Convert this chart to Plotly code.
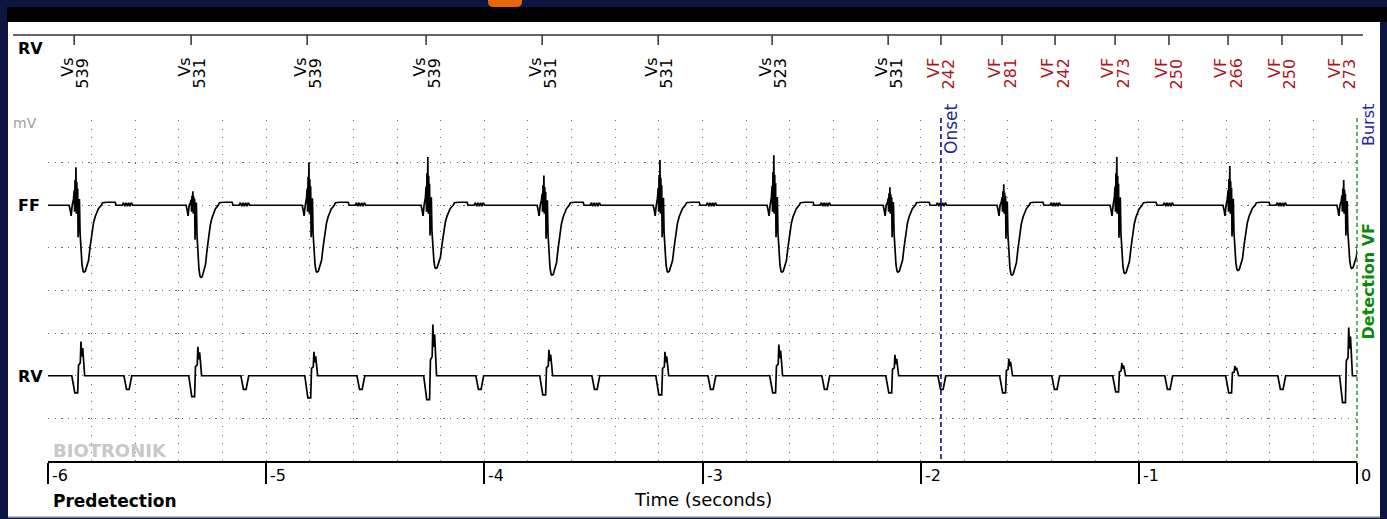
import plotly.graph_objects as go

# ---------------- data ----------------
# Marker channel (top strip): event time (s), event type, interval label (ms)
marker_t = [-5.880, -5.344, -4.812, -4.267, -3.735, -3.203, -2.681, -2.149,
            -1.907, -1.627, -1.384, -1.109, -0.862, -0.591, -0.344, -0.069]
marker_type = ["Vs", "Vs", "Vs", "Vs", "Vs", "Vs", "Vs", "Vs",
               "VF", "VF", "VF", "VF", "VF", "VF", "VF", "VF"]
marker_interval = ["539", "531", "539", "539", "531", "531", "523", "531",
                   "242", "281", "242", "273", "250", "266", "250", "273"]

# Ventricular complexes seen on both EGM channels (s)
beat_t = [-5.880, -5.344, -4.812, -4.267, -3.735, -3.203, -2.681, -2.149,
          -1.627, -1.109, -0.591, -0.069]
# per-beat amplitudes (grid divisions)
ff_up = [0.89, 0.33, 1.00, 1.13, 0.70, 1.06, 1.17, 0.42, 0.49, 1.13, 0.92, 0.59]
ff_dn = [1.57, 1.69, 1.57, 1.48, 1.64, 1.57, 1.57, 1.57, 1.64, 1.60, 1.53, 1.48]
rv_up = [0.80, 0.68, 0.56, 1.20, 0.61, 0.56, 0.73, 0.49, 0.40, 0.30, 0.23, 1.13]
rv_dn = [0.40, 0.49, 0.52, 0.56, 0.45, 0.45, 0.40, 0.40, 0.40, 0.38, 0.40, 0.63]

# Far-field complex shape read from the first beat: offset (ms), value, part
ff_tpl_ms = [-33, -23, -18, -14, -9, -3, 0, 2, 4, 6, 8, 10, 12, 14, 16, 18, 21, 24, 27,
             31, 36, 41, 45, 51, 58, 66, 73, 81, 88, 96, 104, 111, 124, 130, 150, 188,
             192, 220, 226, 232, 238, 244, 250, 256, 262, 268, 290]
ff_tpl_v = [0, 0, -0.12, -0.25, 0, 0.15, 0.35, -0.15, 0.6, 0.0, 0.9, -0.2, 0.55, -0.1,
            0.4, -0.75, 0.1, 0.15, -0.65, -1.1, -1.4, -1.55, -1.57, -1.55, -1.45,
            -1.29, -0.98, -0.67, -0.43, -0.27, -0.16, -0.08, 0.0, 0.06, 0.07, 0.07,
            0.0, 0.0, 0.06, -0.02, 0.06, -0.02, 0.06, -0.02, 0.06, 0.0, 0.0]
ff_tpl_part = ["n", "n", "n", "n", "n", "u", "u", "n", "u", "n", "u", "n", "u", "n",
               "u", "d", "u", "u", "d", "d", "d", "d", "d", "d", "d", "d", "d", "d",
               "d", "d", "d", "d", "n", "n", "n", "n", "n", "n", "n", "n", "n", "n",
               "n", "n", "n", "n", "n"]
FF_REF_UP, FF_REF_DN = 0.9, 1.57

# RV near-field complex + small late deflection
rv_tpl_ms = [-11, -4, 3, 16, 20, 28, 31, 35, 39, 44, 48, 228, 234, 240, 252, 258, 264]
rv_tpl_v = [0, -0.2, -0.4, -0.4, 0.25, 0.3, 0.8, 0.45, 0.65, 0.3, 0, 0, -0.15, -0.32,
            -0.32, -0.15, 0]
rv_tpl_part = ["n", "d", "d", "d", "u", "u", "u", "u", "u", "u", "n", "n", "n", "n",
               "n", "n", "n"]
RV_REF_UP, RV_REF_DN = 0.8, 0.4

FF_BASE, RV_BASE = 6.0, 2.0
onset_t = -1.907
detection_t = 0.0
t_axis = [-6, -5, -4, -3, -2, -1, 0]
t_labels = ["-6", "-5", "-4", "-3", "-2", "-1", "0"]


def build(base, tpl_ms, tpl_v, tpl_part, ups, dns, ref_up, ref_dn):
    xs, ys = [-6.0], [base]
    for bt, up, dn in zip(beat_t, ups, dns):
        for ms, v, p in zip(tpl_ms, tpl_v, tpl_part):
            k = up / ref_up if p == "u" else (dn / ref_dn if p == "d" else 1.0)
            xs.append(bt + ms / 1000.0)
            ys.append(base + v * k)
    xs.append(0.5)
    ys.append(base)
    return xs, ys


ff_x, ff_y = build(FF_BASE, ff_tpl_ms, ff_tpl_v, ff_tpl_part, ff_up, ff_dn, FF_REF_UP, FF_REF_DN)
rv_x, rv_y = build(RV_BASE, rv_tpl_ms, rv_tpl_v, rv_tpl_part, rv_up, rv_dn, RV_REF_UP, RV_REF_DN)

# ---------------- layout helpers ----------------
W, H = 1387, 519
L, R, T, B = 48, 30, 120, 58
FONT = "DejaVu Sans"
BLUE = "#25259e"
GREEN = "#0a8a0a"
RED = "#b0141c"


def xp(px):
    return (px - L) / (W - L - R)


def yp(py):
    return (H - B - py) / (H - T - B)


fig = go.Figure()
fig.add_trace(go.Scatter(x=ff_x, y=ff_y, mode="lines", line=dict(color="black", width=1.7),
                         hoverinfo="skip", showlegend=False))
fig.add_trace(go.Scatter(x=rv_x, y=rv_y, mode="lines", line=dict(color="black", width=1.7),
                         hoverinfo="skip", showlegend=False))

shapes = []
# background panel pieces
shapes.append(dict(type="rect", xref="paper", yref="paper", x0=xp(8), x1=xp(1380),
                   y0=yp(517), y1=yp(22), fillcolor="white", line=dict(width=0), layer="below"))
shapes.append(dict(type="line", xref="paper", yref="paper", x0=xp(8), x1=xp(1380),
                   y0=yp(517), y1=yp(517), line=dict(color="#a8a8a8", width=1.5), layer="below"))
shapes.append(dict(type="rect", xref="paper", yref="paper", x0=xp(7), x1=xp(1387),
                   y0=yp(22), y1=yp(7), fillcolor="black", line=dict(width=0), layer="below"))
shapes.append(dict(type="path", xref="paper", yref="paper",
                   path="M {0},{1} L {2},{1} L {2},{3} Q {2},{4} {5},{4} L {6},{4} Q {0},{4} {0},{3} Z".format(
                       xp(488), yp(0), xp(522), yp(2), yp(7), xp(516), xp(494)),
                   fillcolor="#e8660c", line=dict(width=0), layer="below"))
# marker channel axis
shapes.append(dict(type="line", xref="paper", yref="paper", x0=xp(13), x1=xp(1363),
                   y0=yp(35), y1=yp(35), line=dict(color="#333333", width=1.5)))
for t in marker_t:
    shapes.append(dict(type="line", xref="x", yref="paper", x0=t, x1=t,
                       y0=yp(35), y1=yp(45), line=dict(color="#333333", width=1.5)))
# onset / detection markers
shapes.append(dict(type="line", xref="x", yref="paper", x0=onset_t, x1=onset_t,
                   y0=yp(118), y1=yp(462), line=dict(color=BLUE, width=1.8, dash="5px,3px")))
det_x = (detection_t - t_axis[0]) / (t_axis[-1] - t_axis[0])
shapes.append(dict(type="line", xref="paper", yref="paper", x0=det_x, x1=det_x,
                   y0=yp(118), y1=yp(462), line=dict(color=GREEN, width=1.3, dash="4px,3px")))

ann = []
for t, typ, iv in zip(marker_t, marker_type, marker_interval):
    col = "black" if typ == "Vs" else RED
    ann.append(dict(x=t, xref="x", y=yp(56), yref="paper", text=typ, textangle=-90,
                    xanchor="center", yanchor="top", xshift=-7, showarrow=False,
                    font=dict(family=FONT, size=16, color=col)))
    ann.append(dict(x=t, xref="x", y=yp(56), yref="paper", text=iv, textangle=-90,
                    xanchor="center", yanchor="top", xshift=8, showarrow=False,
                    font=dict(family=FONT, size=16, color=col)))
for t, lab in zip(t_axis, t_labels):
    ann.append(dict(x=t, xref="x", y=yp(475), yref="paper", text=lab, xanchor="left",
                    yanchor="middle", xshift=2, showarrow=False,
                    font=dict(family=FONT, size=16, color="black")))


def txt(text, x, y, size, color="black", bold=False, xanchor="left", angle=0, yanchor="middle", xref="paper", xshift=0):
    ann.append(dict(x=x, xref=xref, y=y, yref="paper", text=text, xanchor=xanchor,
                    yanchor=yanchor, textangle=angle, showarrow=False, xshift=xshift,
                    font=dict(family=FONT, size=size, color=color,
                              weight="bold" if bold else "normal")))


txt("RV", xp(16), yp(49), 16, bold=True)
txt("mV", xp(11), yp(123), 14, color="#a0a0a0")
txt("FF", xp(16), yp(205), 16, bold=True)
txt("RV", xp(16), yp(376), 16, bold=True)
txt("BIOTRONIK", xp(51), yp(450), 18, color="#c8c8c8", bold=True)
txt("Predetection", xp(51), yp(501), 17, bold=True)
txt("Time (seconds)", xp(703), yp(500), 18, xanchor="center")
txt("Onset", onset_t, yp(102), 17, color=BLUE, angle=-90, xanchor="center", yanchor="top", xref="x", xshift=10)
txt("Burst", xp(1368), yp(102), 16, color=BLUE, angle=-90, xanchor="center", yanchor="top")
txt("Detection VF", xp(1368), yp(221), 16, color=GREEN, bold=True, angle=-90, xanchor="center", yanchor="top")

GRID = "#6a6a6a"
fig.update_layout(
    width=W, height=H, autosize=False,
    margin=dict(l=L, r=R, t=T, b=B, pad=0),
    paper_bgcolor="#0c1640", plot_bgcolor="white",
    shapes=shapes, annotations=ann, showlegend=False,
    xaxis=dict(range=[t_axis[0], t_axis[-1]], tickvals=t_axis, showticklabels=False,
               ticks="outside", ticklen=21, tickwidth=1.5, tickcolor="black",
               showline=True, linecolor="black", linewidth=1.5,
               showgrid=True, gridcolor=GRID, gridwidth=1.3, griddash="1.3px,7.2px",
               zeroline=False, fixedrange=True,
               minor=dict(dtick=0.2, tick0=-6, showgrid=True, gridcolor=GRID,
                          gridwidth=1.3, griddash="1.3px,7.2px", ticks="")),
    yaxis=dict(range=[0, 8], dtick=1, tick0=0, showticklabels=False, ticks="",
               showgrid=True, gridcolor=GRID, gridwidth=1.3, griddash="1.3px,5.4px",
               zeroline=False, showline=False, fixedrange=True),
)

fig.write_html("out.html")
